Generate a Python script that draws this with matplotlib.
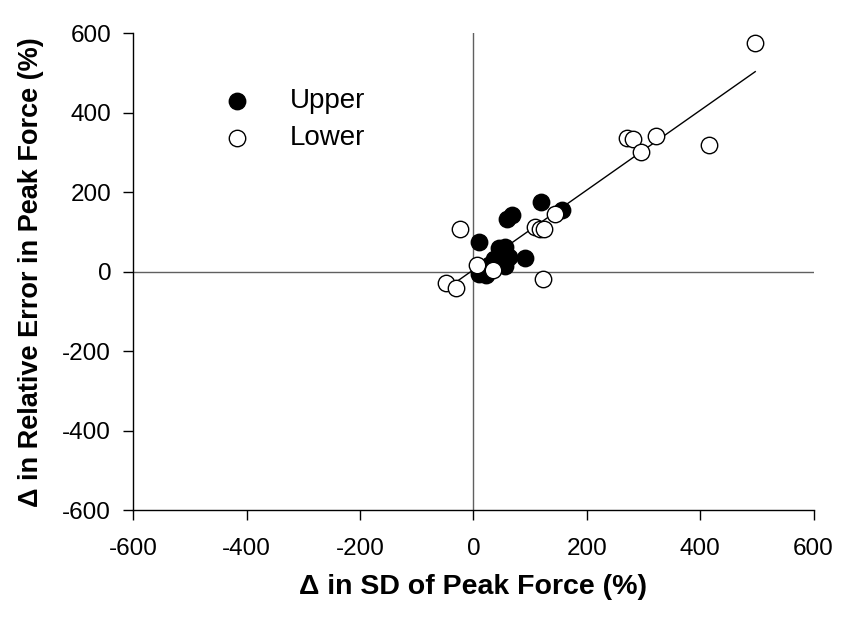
import numpy as np
import matplotlib
matplotlib.use("Agg")
import matplotlib.pyplot as plt

plt.rcParams['font.family'] = ['Liberation Sans', 'DejaVu Sans']
plt.rcParams['axes.unicode_minus'] = False

# change in SD of peak force (%) vs change in relative error (%)
upper_sd = [10, 60, 68, 119, 156, 90, 45, 56, 62, 55, 36, 27, 10, 22, 35]
upper_err = [76, 133, 143, 176, 155, 35, 60, 62, 38, 15, 33, 18, -5, -8, 12]

lower_sd = [497, 271, 282, 322, 295, 416, 144, 109, 117, 125, 123, -24, -48, -31, 7, 34]
lower_err = [575, 336, 334, 342, 301, 319, 146, 114, 107, 107, -18, 108, -28, -40, 18, 4]

ticks = [-600, -400, -200, 0, 200, 400, 600]

fig = plt.figure(figsize=(8.44, 6.18), dpi=100)
ax = fig.add_axes([0.158, 0.174, 0.806, 0.772])

# reference lines through zero
ax.axhline(0, color='#606060', lw=1.0, zorder=1)
ax.axvline(0, color='#606060', lw=1.0, zorder=1)

# least-squares line over both groups
all_x = np.array(upper_sd + lower_sd, dtype=float)
all_y = np.array(upper_err + lower_err, dtype=float)
slope, icpt = np.polyfit(all_x, all_y, 1)
xs = np.array([all_x.min(), all_x.max()])
ax.plot(xs, slope * xs + icpt, color='black', lw=1.0, zorder=2)

ax.scatter(upper_sd, upper_err, s=140, facecolor='black', edgecolor='black',
           lw=1.0, zorder=3, label='Upper')
ax.scatter(lower_sd, lower_err, s=140, facecolor='white', edgecolor='black',
           lw=1.0, zorder=4, label='Lower')

ax.set_xlim(-600, 600)
ax.set_ylim(-600, 600)
ax.set_xticks(ticks)
ax.set_yticks(ticks)
ax.tick_params(direction='out', length=7, width=1, labelsize=17.5)
ax.tick_params(axis='x', pad=13)
ax.tick_params(axis='y', pad=9)
for side in ['top', 'right']:
    ax.spines[side].set_visible(False)
for side in ['left', 'bottom']:
    ax.spines[side].set_linewidth(1.0)

ax.set_xlabel('\u0394 in SD of Peak Force (%)', fontsize=20.5, fontweight='bold', labelpad=10)
ax.set_ylabel('\u0394 in Relative Error in Peak Force (%)', fontsize=19.5, fontweight='bold', labelpad=13)

ax.legend(loc='upper left', bbox_to_anchor=(0.264, 0.857), bbox_transform=fig.transFigure,
          frameon=False, fontsize=20, handlelength=1.0, handletextpad=1.4,
          labelspacing=0.4, borderpad=0, borderaxespad=0)

fig.savefig('out.png', dpi=100)
